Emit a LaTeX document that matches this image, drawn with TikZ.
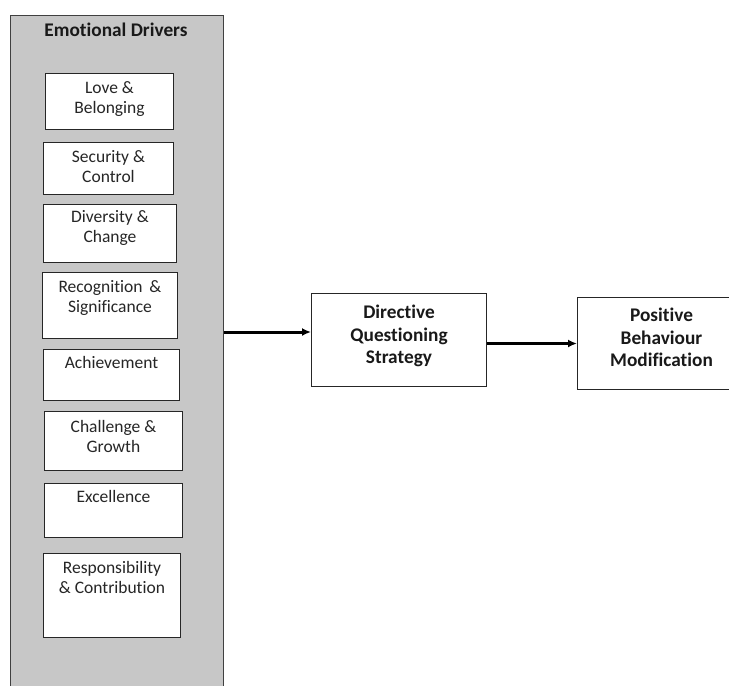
\documentclass[tikz,border=0pt]{standalone}
\usepackage{fontspec}
\setmainfont{Carlito}[RawFeature={-liga}]
\usetikzlibrary{arrows.meta}
\begin{document}
\begin{tikzpicture}[x=1pt,y=-1pt,
  panel/.style={draw=black!75, line width=1pt, fill=black!22, inner sep=0pt},
  drv/.style={draw=black!85, line width=1pt, fill=white, inner sep=0pt, anchor=north west},
  drvtext/.style={anchor=north, align=center, inner sep=0pt, text=black!85,
    font=\fontsize{17.5}{20}\selectfont},
  mainbox/.style={draw=black!85, line width=1pt, fill=white, inner sep=0pt, anchor=north west},
  maintext/.style={align=center, inner sep=0pt, text=black!90,
    font=\bfseries\fontsize{19.3}{22.5}\selectfont},
  conn/.style={line width=3pt, -{Latex[length=9pt,width=8pt]}}]
\clip (0,0) rectangle (729,686);
\fill[white] (0,0) rectangle (729,686);
% panel
\node[panel, minimum width=213pt, minimum height=700pt, anchor=north west] (panel) at (10,15) {};
\node[maintext, anchor=north] (title) at (116,23) {Emotional Drivers};
% driver boxes
\node[drv, minimum width=128pt, minimum height=56pt] (d1) at (45,73) {};
\node[drvtext] (t1) at ([yshift=-8pt]d1.north) {Love \&\\Belonging};
\node[drv, minimum width=130pt, minimum height=52pt] (d2) at (43,142) {};
\node[drvtext] (t2) at ([yshift=-8pt]d2.north) {Security \&\\Control};
\node[drv, minimum width=133pt, minimum height=58pt] (d3) at (43,204) {};
\node[drvtext] (t3) at ([yshift=-6pt]d3.north) {Diversity \&\\Change};
\node[drv, minimum width=135pt, minimum height=66pt] (d4) at (42,272) {};
\node[drvtext] (t4) at ([yshift=-8pt]d4.north) {Recognition \,\&\\Significance};
\node[drv, minimum width=136pt, minimum height=51pt] (d5) at (43,349) {};
\node[drvtext] (t5) at ([yshift=-7pt]d5.north) {Achievement};
\node[drv, minimum width=138pt, minimum height=59pt] (d6) at (44,411) {};
\node[drvtext] (t6) at ([yshift=-9pt]d6.north) {Challenge \&\\Growth};
\node[drv, minimum width=138pt, minimum height=54pt] (d7) at (44,483) {};
\node[drvtext] (t7) at ([yshift=-7pt]d7.north) {Excellence};
\node[drv, minimum width=137pt, minimum height=84pt] (d8) at (43,553) {};
\node[drvtext] (t8) at ([yshift=-8pt]d8.north) {Responsibility\\\& Contribution};
% main boxes
\node[mainbox, minimum width=175pt, minimum height=93pt] (dqs) at (311,293) {};
\node[maintext] (dqst) at ([yshift=4pt]dqs.center) {Directive\\Questioning\\Strategy};
\node[mainbox, minimum width=168pt, minimum height=92pt] (pbm) at (577,297) {};
\node[maintext] (pbmt) at ([yshift=6pt]pbm.center) {Positive\\Behaviour\\Modification};
% connectors
\coordinate (a1y) at (0,332);
\draw[conn] (panel.east |- a1y) -- (dqs.west |- a1y);
\draw[conn] (dqs.east |- pbm.west) -- (pbm.west);
\end{tikzpicture}
\end{document}
